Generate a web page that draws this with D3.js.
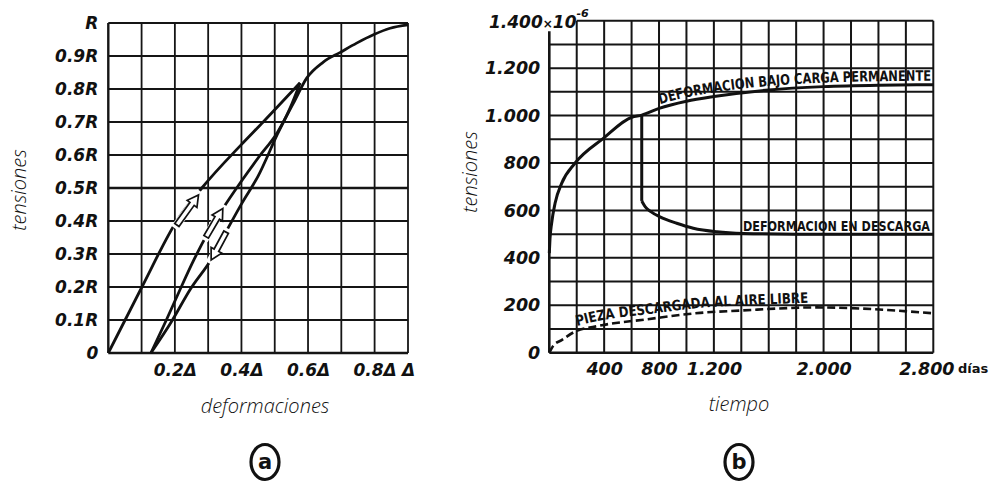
<!DOCTYPE html>
<html>
<head>
<meta charset="utf-8">
<script src="https://cdn.jsdelivr.net/npm/d3@7"></script>
<style>
  body { margin: 0; background: #fff; }
  svg text { fill: #111; }
</style>
</head>
<body>
<div id="chart"></div>
<script>
// ---- chart (a): tensiones vs deformaciones ----
const defGrid = [0, 0.1, 0.2, 0.3, 0.4, 0.5, 0.6, 0.7, 0.8, 1.0];
const defTicks = [0.2, 0.4, 0.6, 0.8, 1.0];
const defLabels = ["0.2Δ", "0.4Δ", "0.6Δ", "0.8Δ", "Δ"];
const tenGrid = [0, 0.1, 0.2, 0.3, 0.4, 0.5, 0.6, 0.7, 0.8, 0.9, 1.0];
const tenLabels = ["0", "0.1R", "0.2R", "0.3R", "0.4R", "0.5R", "0.6R", "0.7R", "0.8R", "0.9R", "R"];

// [deformacion (Δ), tension (R)]
const loading = [[0, 0], [0.101, 0.2], [0.206, 0.401], [0.281, 0.5], [0.401, 0.633], [0.466, 0.701], [0.576, 0.819]];
const unloading = [[0.128, 0], [0.191, 0.097], [0.245, 0.191], [0.312, 0.288], [0.36, 0.379], [0.402, 0.455],
  [0.45, 0.536], [0.507, 0.661], [0.546, 0.742], [0.576, 0.818]];
const reloading = [[0.128, 0], [0.173, 0.097], [0.215, 0.191], [0.257, 0.282], [0.296, 0.358], [0.345, 0.439],
  [0.396, 0.515], [0.45, 0.591], [0.507, 0.667], [0.555, 0.755], [0.596, 0.833], [0.645, 0.881],
  [0.697, 0.911], [0.746, 0.939], [0.798, 0.965], [0.893, 0.984], [1.0, 0.994]];
// arrows: [tail, head]
const arrowsA = [
  [[0.206, 0.388], [0.271, 0.479]],
  [[0.294, 0.352], [0.344, 0.438]],
  [[0.354, 0.366], [0.309, 0.282]]
];

// ---- chart (b): tensiones vs tiempo ----
const dayGrid = d3.range(0, 2801, 200);
const dayTicks = [400, 800, 1200, 2000, 2800];
const dayLabels = ["400", "800", "1.200", "2.000", "2.800"];
const strainGrid = d3.range(0, 1401, 100);
const strainTicks = [0, 200, 400, 600, 800, 1000, 1200];
const strainLabels = ["0", "200", "400", "600", "800", "1.000", "1.200"];

const creepDays = [0, 5, 17, 42, 90, 187, 394, 601, 674, 800, 1000, 1200, 1600, 2000, 2400, 2800];
const creepVals = [420, 480, 546, 630, 714, 799, 904, 993, 1002, 1030, 1060, 1080, 1108, 1122, 1128, 1130];
const unloadDays = [674, 674, 700, 740, 807, 929, 1050, 1221, 1415, 1800, 2800];
const unloadVals = [1002, 640, 615, 595, 573, 546, 525, 510, 503, 500, 500];
const freeDays = [0, 30, 90, 187, 333, 394, 700, 1100, 1400, 1950, 2200, 2466, 2800];
const freeVals = [0, 30, 53, 89, 110, 117, 140, 168, 178, 191, 188, 180, 166];

const W = 1000, H = 493;
const svg = d3.select("#chart").append("svg").attr("width", W).attr("height", H);

const tickFont = "'DejaVu Sans', sans-serif";
const titleFont = "'Open Sans', Roboto, sans-serif";
const letterFont = "'DejaVu Sans Condensed', 'DejaVu Sans', sans-serif";

const titleStyle = sel => sel.style("font-family", titleFont).style("font-style", "italic")
  .style("font-weight", 300).style("font-size", "20px");

// ================= chart (a) =================
const xA = d3.scaleLinear().domain([0, 0.8, 1]).range([108.3, 374.6, 408]);
const yA = d3.scaleLinear().domain([0, 1]).range([353, 23]);
const gA = svg.append("g");

// grid
gA.append("g").selectAll("line").data(defGrid).join("line")
  .attr("x1", d => xA(d)).attr("x2", d => xA(d))
  .attr("y1", yA(0)).attr("y2", yA(1))
  .style("stroke", "#151515").style("stroke-width", d => d === 0 ? 2.4 : 1.8);
gA.append("g").selectAll("line").data(tenGrid).join("line")
  .attr("x1", xA(0)).attr("x2", xA(1))
  .attr("y1", d => yA(d)).attr("y2", d => yA(d))
  .style("stroke", "#151515").style("stroke-width", d => (d === 0 || d === 0.5) ? 2.4 : 1.8);

// axes labels
const axLeftA = gA.append("g").attr("transform", `translate(${xA(0) - 7},0)`)
  .call(d3.axisLeft(yA).tickValues(tenGrid).tickSize(0).tickFormat((d, i) => tenLabels[i]));
const axBotA = gA.append("g").attr("transform", `translate(0,${yA(0) + 8})`)
  .call(d3.axisBottom(xA).tickValues(defTicks).tickSize(0).tickFormat((d, i) => defLabels[i]));
[axLeftA, axBotA].forEach(a => {
  a.select(".domain").remove();
  a.selectAll("text").style("font-family", tickFont).style("font-style", "italic")
    .style("font-weight", "bold").style("font-size", "17px").attr("fill", "#111");
});

// curves
const lineA = d3.line().x(d => xA(d[0])).y(d => yA(d[1])).curve(d3.curveMonotoneX);
[loading, unloading, reloading].forEach(s => {
  gA.append("path").datum(s).attr("d", lineA)
    .style("fill", "none").style("stroke", "#111").style("stroke-width", 2.8);
});

// hollow arrows
arrowsA.forEach(([t, h]) => {
  const x0 = xA(t[0]), y0 = yA(t[1]), x1 = xA(h[0]), y1 = yA(h[1]);
  const L = Math.hypot(x1 - x0, y1 - y0);
  const ang = Math.atan2(y1 - y0, x1 - x0) * 180 / Math.PI;
  const g = gA.append("g").attr("transform", `translate(${x0},${y0}) rotate(${ang})`);
  g.append("line").attr("x1", -4).attr("x2", L + 4).attr("y1", 0).attr("y2", 0)
    .style("stroke", "#fff").style("stroke-width", 8);
  const hl = 11;
  g.append("path")
    .attr("d", `M0,-2.6 L${L - hl},-2.6 L${L - hl},-6 L${L},0 L${L - hl},6 L${L - hl},2.6 L0,2.6 Z`)
    .style("fill", "#fff").style("stroke", "#111").style("stroke-width", 1.7)
    .style("stroke-linejoin", "miter");
});

// titles
svg.append("text").attr("transform", "translate(26,190) rotate(-90)")
  .attr("text-anchor", "middle").text("tensiones").call(titleStyle);
svg.append("text").attr("x", 265).attr("y", 413).attr("text-anchor", "middle").text("deformaciones")
  .call(titleStyle);

// ================= chart (b) =================
const xB = d3.scaleLinear().domain([0, 2800]).range([549.3, 933.3]);
const yB = d3.scaleLinear().domain([0, 1400]).range([352.7, 20.7]);
const gB = svg.append("g");

gB.append("g").selectAll("line").data(dayGrid).join("line")
  .attr("x1", d => xB(d)).attr("x2", d => xB(d))
  .attr("y1", yB(0)).attr("y2", d => d === 0 ? yB(1355) : yB(1400))
  .style("stroke", "#151515").style("stroke-width", d => d === 0 ? 2.6 : 2);
gB.append("g").selectAll("line").data(strainGrid).join("line")
  .attr("x1", d => d === 1400 ? xB(200) : xB(0)).attr("x2", xB(2800))
  .attr("y1", d => yB(d)).attr("y2", d => yB(d))
  .style("stroke", "#151515").style("stroke-width", d => d === 0 ? 2.6 : 2);

const axLeftB = gB.append("g").attr("transform", `translate(${xB(0) - 6},0)`)
  .call(d3.axisLeft(yB).tickValues(strainTicks).tickSize(0).tickFormat((d, i) => strainLabels[i]));
const axBotB = gB.append("g").attr("transform", `translate(0,${yB(0) + 7})`)
  .call(d3.axisBottom(xB).tickValues(dayTicks).tickSize(0).tickFormat((d, i) => dayLabels[i]));
[axLeftB, axBotB].forEach(a => {
  a.select(".domain").remove();
  a.selectAll("text").style("font-family", tickFont).style("font-style", "italic")
    .style("font-weight", "bold").style("font-size", "17.5px").attr("fill", "#111");
});
// last day label sits a little left of its line, leaving room for "días"
axBotB.selectAll(".tick text").filter(d => d === 2800).attr("dx", -7);

// top label 1.400x10^-6
const topLab = gB.append("text").attr("x", 489).attr("y", yB(1400) + 7)
  .style("font-family", tickFont).style("font-style", "italic").style("font-weight", "bold").style("font-size", "17px");
topLab.append("tspan").text("1.400");
topLab.append("tspan").text("×").style("font-size", "12px");
topLab.append("tspan").text("10");
topLab.append("tspan").text("-6").attr("dy", -11).style("font-size", "11px");

gB.append("text").attr("x", 958).attr("y", yB(0) + 20).text("días")
  .style("font-family", "'DejaVu Sans', sans-serif").style("font-weight", "bold").style("font-size", "13px");

// curves
const creep = creepDays.map((d, i) => [d, creepVals[i]]);
const unload = unloadDays.map((d, i) => [d, unloadVals[i]]);
const free = freeDays.map((d, i) => [d, freeVals[i]]);
const lineB = d3.line().x(d => xB(d[0])).y(d => yB(d[1])).curve(d3.curveMonotoneX);
const lineBL = d3.line().x(d => xB(d[0])).y(d => yB(d[1])).curve(d3.curveLinear);

gB.append("path").datum(creep).attr("d", lineB)
  .style("fill", "none").style("stroke", "#111").style("stroke-width", 3);
gB.append("path").datum(unload.slice(0, 2)).attr("d", lineBL)
  .style("fill", "none").style("stroke", "#111").style("stroke-width", 3);
gB.append("path").datum(unload.slice(1)).attr("d", lineB)
  .style("fill", "none").style("stroke", "#111").style("stroke-width", 3);
gB.append("path").datum(free).attr("d", lineB)
  .style("fill", "none").style("stroke", "#111").style("stroke-width", 2.6)
  .style("stroke-dasharray", "8,4");

// lettering along curves
const defs = svg.append("defs");
const lineUp = off => d3.line().x(d => xB(d[0])).y(d => yB(d[1]) - off).curve(d3.curveMonotoneX);
defs.append("path").attr("id", "pCreep").attr("d", lineUp(4)(creep.filter(d => d[0] >= 800)));
defs.append("path").attr("id", "pFree").attr("d", lineUp(5)(free.filter(d => d[0] >= 187 && d[0] <= 1950)));

const letterStyle = sel => sel.style("font-family", letterFont).style("font-weight", "bold")
  .style("font-size", "14.5px");

svg.append("text").call(letterStyle)
  .append("textPath").attr("href", "#pCreep").attr("startOffset", 1)
  .attr("textLength", 273).attr("lengthAdjust", "spacingAndGlyphs")
  .text("DEFORMACION BAJO CARGA PERMANENTE");
svg.append("text").call(letterStyle)
  .append("textPath").attr("href", "#pFree").attr("startOffset", 2)
  .attr("textLength", 233).attr("lengthAdjust", "spacingAndGlyphs")
  .text("PIEZA DESCARGADA AL AIRE LIBRE");
svg.append("text").call(letterStyle)
  .attr("x", 743).attr("y", yB(500) - 3)
  .attr("textLength", 187).attr("lengthAdjust", "spacingAndGlyphs")
  .text("DEFORMACION EN DESCARGA");

svg.append("text").attr("transform", "translate(477,172) rotate(-90)")
  .attr("text-anchor", "middle").text("tensiones").call(titleStyle);
svg.append("text").attr("x", 739).attr("y", 411).attr("text-anchor", "middle").text("tiempo")
  .call(titleStyle);

// circled letters
[["a", 265], ["b", 739]].forEach(([t, cx]) => {
  svg.append("ellipse").attr("cx", cx).attr("cy", 462).attr("rx", 14).attr("ry", 17.5)
    .style("fill", "none").style("stroke", "#111").style("stroke-width", 3.2);
  svg.append("text").attr("x", cx).attr("y", 469).attr("text-anchor", "middle").text(t)
    .style("font-family", "'DejaVu Sans', sans-serif").style("font-weight", "bold").style("font-size", "21px");
});
</script>
</body>
</html>
